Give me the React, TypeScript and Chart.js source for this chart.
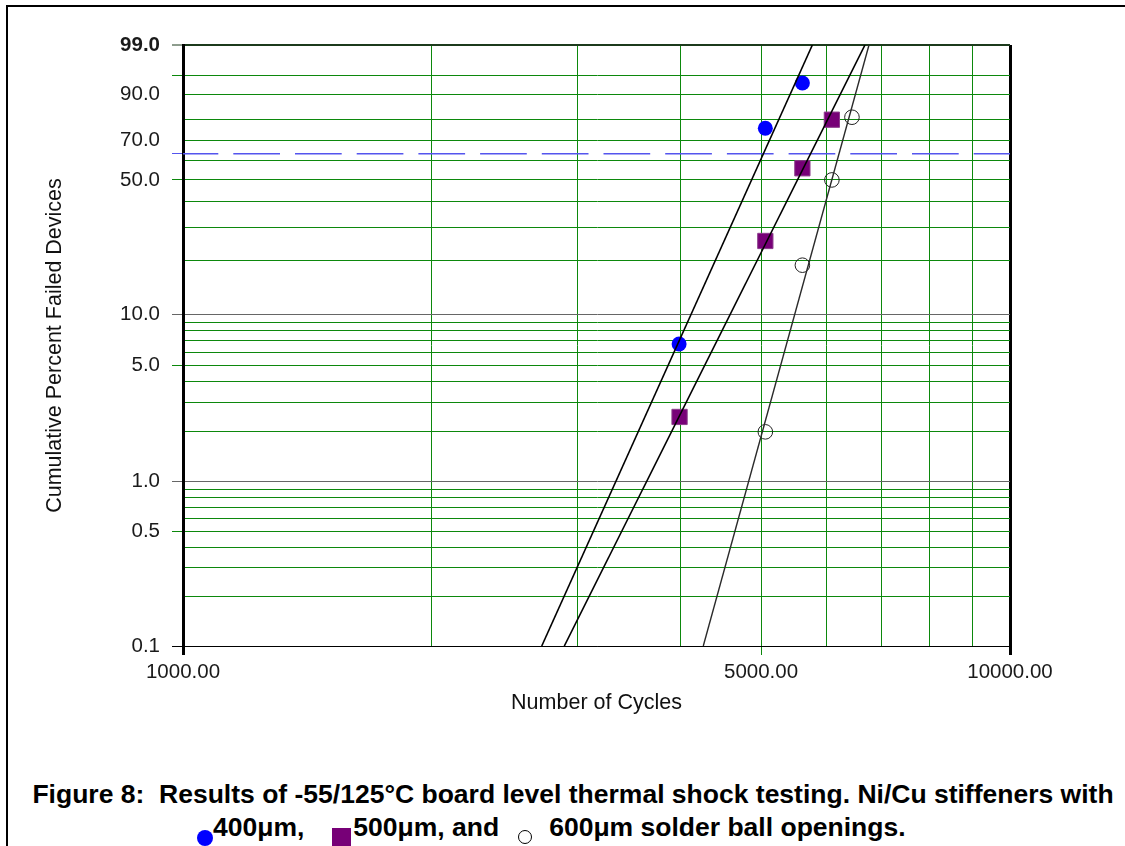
import React, { useEffect, useRef } from "react";
import { Chart, registerables } from "chart.js";

Chart.register(...registerables);

// ---- data (cycles to failure, cumulative % failed) ----
const cycles400 = [3980, 5060, 5610];
const pct400 = [6.7, 76.1, 93.3];
const cycles500 = [3985, 5060, 5610, 6090];
const pct500 = [2.46, 25.5, 55.8, 80.1];
const cycles600 = [5060, 5610, 6090, 6440];
const pct600 = [2.0, 18.9, 50.0, 81.2];

// Weibull fit lines (end points at 0.1 % and 99 %)
const fitPct = [0.1, 99];
const fitCycles400 = [2715, 5768];
const fitCycles500 = [2891, 6678];
const fitCycles600 = [4257, 6753];

// characteristic life reference line (63.2 %)
const charLifePct = 63.2;
const charLifeCycles = [10000, 1000];

// axes
const yGridPct = [0.1, 0.2, 0.3, 0.4, 0.5, 0.6, 0.7, 0.8, 0.9, 1, 2, 3, 4, 5, 6, 7, 8, 9, 10, 20, 30, 40, 50, 60, 63.2, 70, 80, 90, 95, 99];
const yLabelPct = [0.1, 0.5, 1, 5, 10, 50, 70, 90, 99];
const yTickMarkPct = [0.1, 0.5, 1, 5, 10, 50, 63.2, 95, 99];
const xGridCycles = [1000, 2000, 3000, 4000, 5000, 6000, 7000, 8000, 9000, 10000];
const xLabelCycles = [1000, 5000, 10000];

const weib = (p: number) => Math.log(-Math.log(1 - p / 100));
const pts = (xs: number[], ps: number[]) => xs.map((x, i) => ({ x, y: weib(ps[i]) }));

const FONT = "Arial, 'Liberation Sans', Helvetica, sans-serif";
const GREEN = "#0c880c";
const DASH_BLUE = "#5555ee";

function yLineColor(p: number): string {
  if (p === 0.1) return "#000000";
  if (p === 99) return "#1c3a1c";
  if (p === 1 || p === 10) return "#666666";
  if (p === 63.2) return "rgba(0,0,0,0)";
  return GREEN;
}

export default function App() {
  const ref = useRef<HTMLCanvasElement | null>(null);

  useEffect(() => {
    if (!ref.current) return;
    Chart.defaults.font.family = FONT;
    const chart = new Chart(ref.current, {
      type: "scatter",
      data: {
        datasets: [
          {
            type: "line",
            label: "fit400",
            data: pts(fitCycles400, fitPct),
            borderColor: "#000000",
            borderWidth: 1.6,
            pointRadius: 0,
            fill: false,
            order: 1,
          },
          {
            type: "line",
            label: "fit500",
            data: pts(fitCycles500, fitPct),
            borderColor: "#000000",
            borderWidth: 1.6,
            pointRadius: 0,
            fill: false,
            order: 1,
          },
          {
            type: "line",
            label: "fit600",
            data: pts(fitCycles600, fitPct),
            borderColor: "#2a2a2a",
            borderWidth: 1.4,
            pointRadius: 0,
            fill: false,
            order: 1,
          },
          {
            type: "line",
            label: "eta",
            data: charLifeCycles.map((x) => ({ x, y: weib(charLifePct) })),
            borderColor: DASH_BLUE,
            borderWidth: 1.5,
            borderDash: [46.7, 15],
            borderDashOffset: 10.4,
            pointRadius: 0,
            fill: false,
            order: 3,
          },
          {
            label: "400um",
            data: pts(cycles400, pct400),
            pointStyle: "circle",
            pointRadius: 7.5,
            backgroundColor: "#0000ff",
            borderColor: "#0000ff",
            borderWidth: 0,
            order: 2,
          },
          {
            label: "500um",
            data: pts(cycles500, pct500),
            pointStyle: "rect",
            pointRadius: 10.8,
            backgroundColor: "#770077",
            borderColor: "#8c3c8c",
            borderWidth: 1,
            order: 2,
          },
          {
            label: "600um",
            data: pts(cycles600, pct600),
            pointStyle: "circle",
            pointRadius: 7.3,
            backgroundColor: "rgba(0,0,0,0)",
            borderColor: "#222222",
            borderWidth: 1,
            order: 2,
          },
        ],
      },
      options: {
        responsive: false,
        animation: false,
        devicePixelRatio: 1,
        events: [],
        layout: { padding: { top: 45, right: 115, left: 0, bottom: 0 } },
        plugins: { legend: { display: false }, tooltip: { enabled: false } },
        scales: {
          x: {
            type: "logarithmic",
            min: 1000,
            max: 10000,
            bounds: "data",
            afterBuildTicks: (s: any) => {
              s.ticks = xGridCycles.map((v) => ({ value: v }));
            },
            afterFit: (s: any) => {
              s.height = 84;
            },
            ticks: {
              autoSkip: false,
              maxRotation: 0,
              minRotation: 0,
              padding: 5,
              color: "#1a1a1a",
              font: { size: 20.5 },
              callback: (_v: any, i: number) =>
                xLabelCycles.includes(xGridCycles[i]) ? xGridCycles[i].toFixed(2) : "",
            },
            grid: {
              drawTicks: true,
              tickLength: 9,
              color: (ctx: any) => {
                const c = xGridCycles[ctx.index];
                return c === 1000 || c === 10000 ? "#000000" : GREEN;
              },
              lineWidth: (ctx: any) => {
                const c = xGridCycles[ctx.index];
                return c === 1000 || c === 10000 ? 3 : 1;
              },
              tickColor: (ctx: any) => {
                const c = xGridCycles[ctx.index];
                if (c === 1000 || c === 10000) return "#000000";
                if (c === 5000) return GREEN;
                return "rgba(0,0,0,0)";
              },
              tickWidth: (ctx: any) => {
                const c = xGridCycles[ctx.index];
                return c === 1000 || c === 10000 ? 3 : 1;
              },
            },
            border: { display: true, color: "#000000", width: 1 },
            title: {
              display: true,
              text: "Number of Cycles",
              color: "#111111",
              font: { size: 21.5 },
              padding: { top: 0, bottom: 14 },
            },
          },
          y: {
            type: "linear",
            min: weib(0.1),
            max: weib(99),
            bounds: "data",
            afterBuildTicks: (s: any) => {
              s.ticks = yGridPct.map((p) => ({ value: weib(p) }));
            },
            afterFit: (s: any) => {
              s.width = 183;
            },
            ticks: {
              autoSkip: false,
              padding: 12,
              color: "#1a1a1a",
              font: (ctx: any) => ({
                size: 20.5,
                weight: yGridPct[ctx.index] === 99 ? "bold" : "normal",
              }),
              callback: (_v: any, i: number) =>
                yLabelPct.includes(yGridPct[i]) ? yGridPct[i].toFixed(1) : "",
            },
            grid: {
              drawTicks: true,
              tickLength: 11,
              color: (ctx: any) => yLineColor(yGridPct[ctx.index]),
              lineWidth: (ctx: any) => (yGridPct[ctx.index] === 99 ? 2 : 1),
              tickColor: (ctx: any) => {
                const p = yGridPct[ctx.index];
                if (!yTickMarkPct.includes(p)) return "rgba(0,0,0,0)";
                if (p === 63.2) return DASH_BLUE;
                return yLineColor(p);
              },
              tickWidth: 1,
            },
            border: { display: true, color: "#000000", width: 3 },
            title: {
              display: true,
              text: "Cumulative Percent Failed Devices",
              color: "#111111",
              font: { size: 21.5 },
              padding: { top: 42, bottom: 0 },
            },
          },
        },
      },
    } as any);
    return () => chart.destroy();
  }, []);

  const captionStyle: React.CSSProperties = {
    position: "absolute",
    whiteSpace: "nowrap",
    fontFamily: FONT,
    fontWeight: "bold",
    fontSize: "26.5px",
    lineHeight: "30px",
    color: "#000",
  };

  return (
    <div
      style={{
        position: "fixed",
        left: 0,
        top: 0,
        width: 1125,
        height: 846,
        overflow: "hidden",
        background: "#ffffff",
      }}
    >
      <div
        style={{
          position: "absolute",
          left: 6,
          top: 5,
          width: 1200,
          height: 900,
          border: "2px solid #000",
          boxSizing: "border-box",
        }}
      />
      <canvas
        ref={ref}
        width={1125}
        height={730}
        style={{ position: "absolute", left: 0, top: 0, width: 1125, height: 730, display: "block" }}
      />
      <div style={{ ...captionStyle, top: 779, left: 0, width: 1146, textAlign: "center" }}>
        Figure 8:&nbsp; Results of -55/125°C board level thermal shock testing. Ni/Cu stiffeners with
      </div>
      <div style={{ ...captionStyle, top: 812, left: 197, textAlign: "left" }}>
        <span
          style={{
            display: "inline-block",
            width: 16,
            height: 16,
            borderRadius: "50%",
            background: "#0000ff",
            verticalAlign: -10,
          }}
        />
        400μm,
        <span
          style={{
            display: "inline-block",
            width: 19,
            height: 18,
            background: "#770077",
            verticalAlign: -10,
            marginLeft: 28,
            marginRight: 2,
          }}
        />
        500μm, and
        <span
          style={{
            display: "inline-block",
            width: 14,
            height: 14,
            borderRadius: "50%",
            border: "1.3px solid #000",
            boxSizing: "border-box",
            verticalAlign: -8,
            marginLeft: 19,
            marginRight: 17,
          }}
        />
        600μm solder ball openings.
      </div>
    </div>
  );
}
